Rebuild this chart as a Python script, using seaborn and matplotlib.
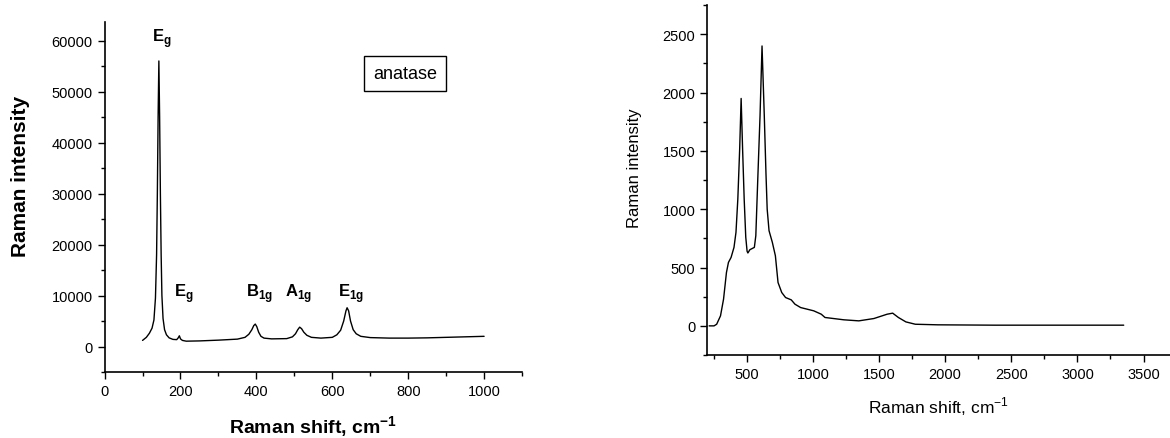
#!/usr/bin/env python3
# Raman spectra, two panels: anatase (left) and second sample (right)

import numpy as np
import pandas as pd
import seaborn as sns
import matplotlib.pyplot as plt
from matplotlib.ticker import MultipleLocator

# --- left panel: anatase spectrum ---
ANATASE_SHIFT = [100, 110, 118, 125, 130, 134, 137, 139, 141, 143, 145, 147, 149, 151,
                 154, 158, 163, 170, 180, 190, 194, 197, 200, 205, 215, 250, 300, 350,
                 370, 380, 388, 393, 397, 401, 406, 412, 420, 440, 480, 495, 503, 509,
                 514, 519, 525, 533, 545, 570, 600, 612, 622, 630, 636, 639, 643, 648,
                 655, 663, 675, 700, 750, 800, 850, 900, 950, 1000]
ANATASE_INT = [1200, 1800, 2600, 3600, 5200, 9500, 18000, 30000, 45000, 56000, 45000,
               30000, 18000, 10000, 5500, 3300, 2300, 1700, 1400, 1350, 1700, 2100, 1500,
               1200, 1050, 1100, 1250, 1450, 1800, 2400, 3300, 4100, 4400, 3900, 2800,
               2000, 1650, 1500, 1550, 1900, 2500, 3300, 3800, 3500, 2800, 2200, 1800,
               1650, 1800, 2300, 3200, 5000, 7000, 7600, 7000, 5000, 3300, 2500, 2000,
               1750, 1650, 1650, 1700, 1800, 1900, 2000]

# peak labels: (main letter, subscript, x, y)
PEAK_MAIN = ["E", "E", "B", "A", "E"]
PEAK_SUB  = ["g", "g", "1g", "1g", "1g"]
PEAK_X    = [125, 183, 372, 476, 616]
PEAK_Y    = [60000, 10000, 10000, 10000, 10000]

# --- right panel spectrum ---
SAMPLE_SHIFT = [215, 252, 272, 301, 324, 346, 361, 381, 403, 418, 432, 446, 457, 468,
                480, 492, 502, 508, 523, 557, 568, 582, 600, 615, 632, 645, 654, 668,
                693, 716, 736, 764, 793, 836, 864, 907, 1006, 1063, 1091, 1234, 1347,
                1461, 1561, 1603, 1646, 1703, 1774, 1944, 2371, 2940, 3350]
SAMPLE_INT = [0, 0, 14, 86, 229, 458, 544, 587, 673, 802, 1088, 1518, 1950, 1518, 1088,
              760, 640, 625, 653, 673, 773, 1232, 1804, 2400, 1804, 1300, 1000, 816,
              716, 601, 372, 286, 243, 223, 186, 157, 129, 100, 72, 52, 43, 63, 100, 109,
              72, 34, 14, 9, 6, 6, 6]

FONT = ["Liberation Sans", "DejaVu Sans"]


def style_axis(ax, xmaj, xmin, ymaj, ymin):
    sns.despine(ax=ax)
    for side in ("left", "bottom"):
        ax.spines[side].set_color("black")
        ax.spines[side].set_linewidth(1.2)
    ax.xaxis.set_major_locator(MultipleLocator(xmaj))
    ax.xaxis.set_minor_locator(MultipleLocator(xmin))
    ax.yaxis.set_major_locator(MultipleLocator(ymaj))
    ax.yaxis.set_minor_locator(MultipleLocator(ymin))
    ax.tick_params(which="major", direction="out", length=5, width=1, color="black",
                   labelcolor="black")
    ax.tick_params(which="minor", direction="out", length=3, width=1, color="black")
    ax.grid(False)


def main():
    sns.set_theme(style="ticks")
    plt.rcParams["font.family"] = FONT
    plt.rcParams["text.color"] = "black"
    plt.rcParams["axes.labelcolor"] = "black"
    plt.rcParams["mathtext.fontset"] = "custom"
    plt.rcParams["mathtext.rm"] = "Liberation Sans"
    plt.rcParams["mathtext.bf"] = "Liberation Sans:bold"

    fig = plt.figure(figsize=(11.7, 4.39), dpi=100)
    ax1 = fig.add_axes([0.0894, 0.1503, 0.3568, 0.798])
    ax2 = fig.add_axes([0.6044, 0.189, 0.3956, 0.797])

    # left: anatase
    d1 = pd.DataFrame({"shift": ANATASE_SHIFT, "intensity": ANATASE_INT})
    sns.lineplot(data=d1, x="shift", y="intensity", color="black", lw=1.0, ax=ax1)
    ax1.set_xlim(0, 1100)
    ax1.set_ylim(-5000, 63700)
    style_axis(ax1, 200, 100, 10000, 5000)
    ax1.tick_params(labelsize=10.5)
    ax1.set_xlabel(r"Raman shift, cm$^{\mathbf{-1}}$", fontsize=14, fontweight="bold", labelpad=11)
    ax1.set_ylabel("Raman intensity", fontsize=15, fontweight="bold")
    ax1.yaxis.set_label_coords(-0.179, 0.56)

    for m, s, x, y in zip(PEAK_MAIN, PEAK_SUB, PEAK_X, PEAK_Y):
        ax1.text(x, y, r"$\mathbf{%s}_{\mathbf{%s}}$" % (m, s), fontsize=12,
                 ha="left", va="baseline")

    ax1.text(791, 53500, "anatase", fontsize=13, ha="center", va="center",
             bbox=dict(boxstyle="square,pad=0.5", fc="white", ec="black", lw=1))

    # right: second spectrum
    d2 = pd.DataFrame({"shift": SAMPLE_SHIFT, "intensity": SAMPLE_INT})
    sns.lineplot(data=d2, x="shift", y="intensity", color="black", lw=1.0, ax=ax2)
    ax2.set_xlim(200, 3700)
    ax2.set_ylim(-250, 2750)
    style_axis(ax2, 500, 250, 500, 250)
    ax2.tick_params(labelsize=10.5)
    ax2.set_xlabel(r"Raman shift, cm$^{-1}$", fontsize=12.5, labelpad=10)
    ax2.set_ylabel("Raman intensity", fontsize=12)
    ax2.yaxis.set_label_coords(-0.141, 0.536)

    fig.savefig("out.png", dpi=100)


if __name__ == "__main__":
    main()
